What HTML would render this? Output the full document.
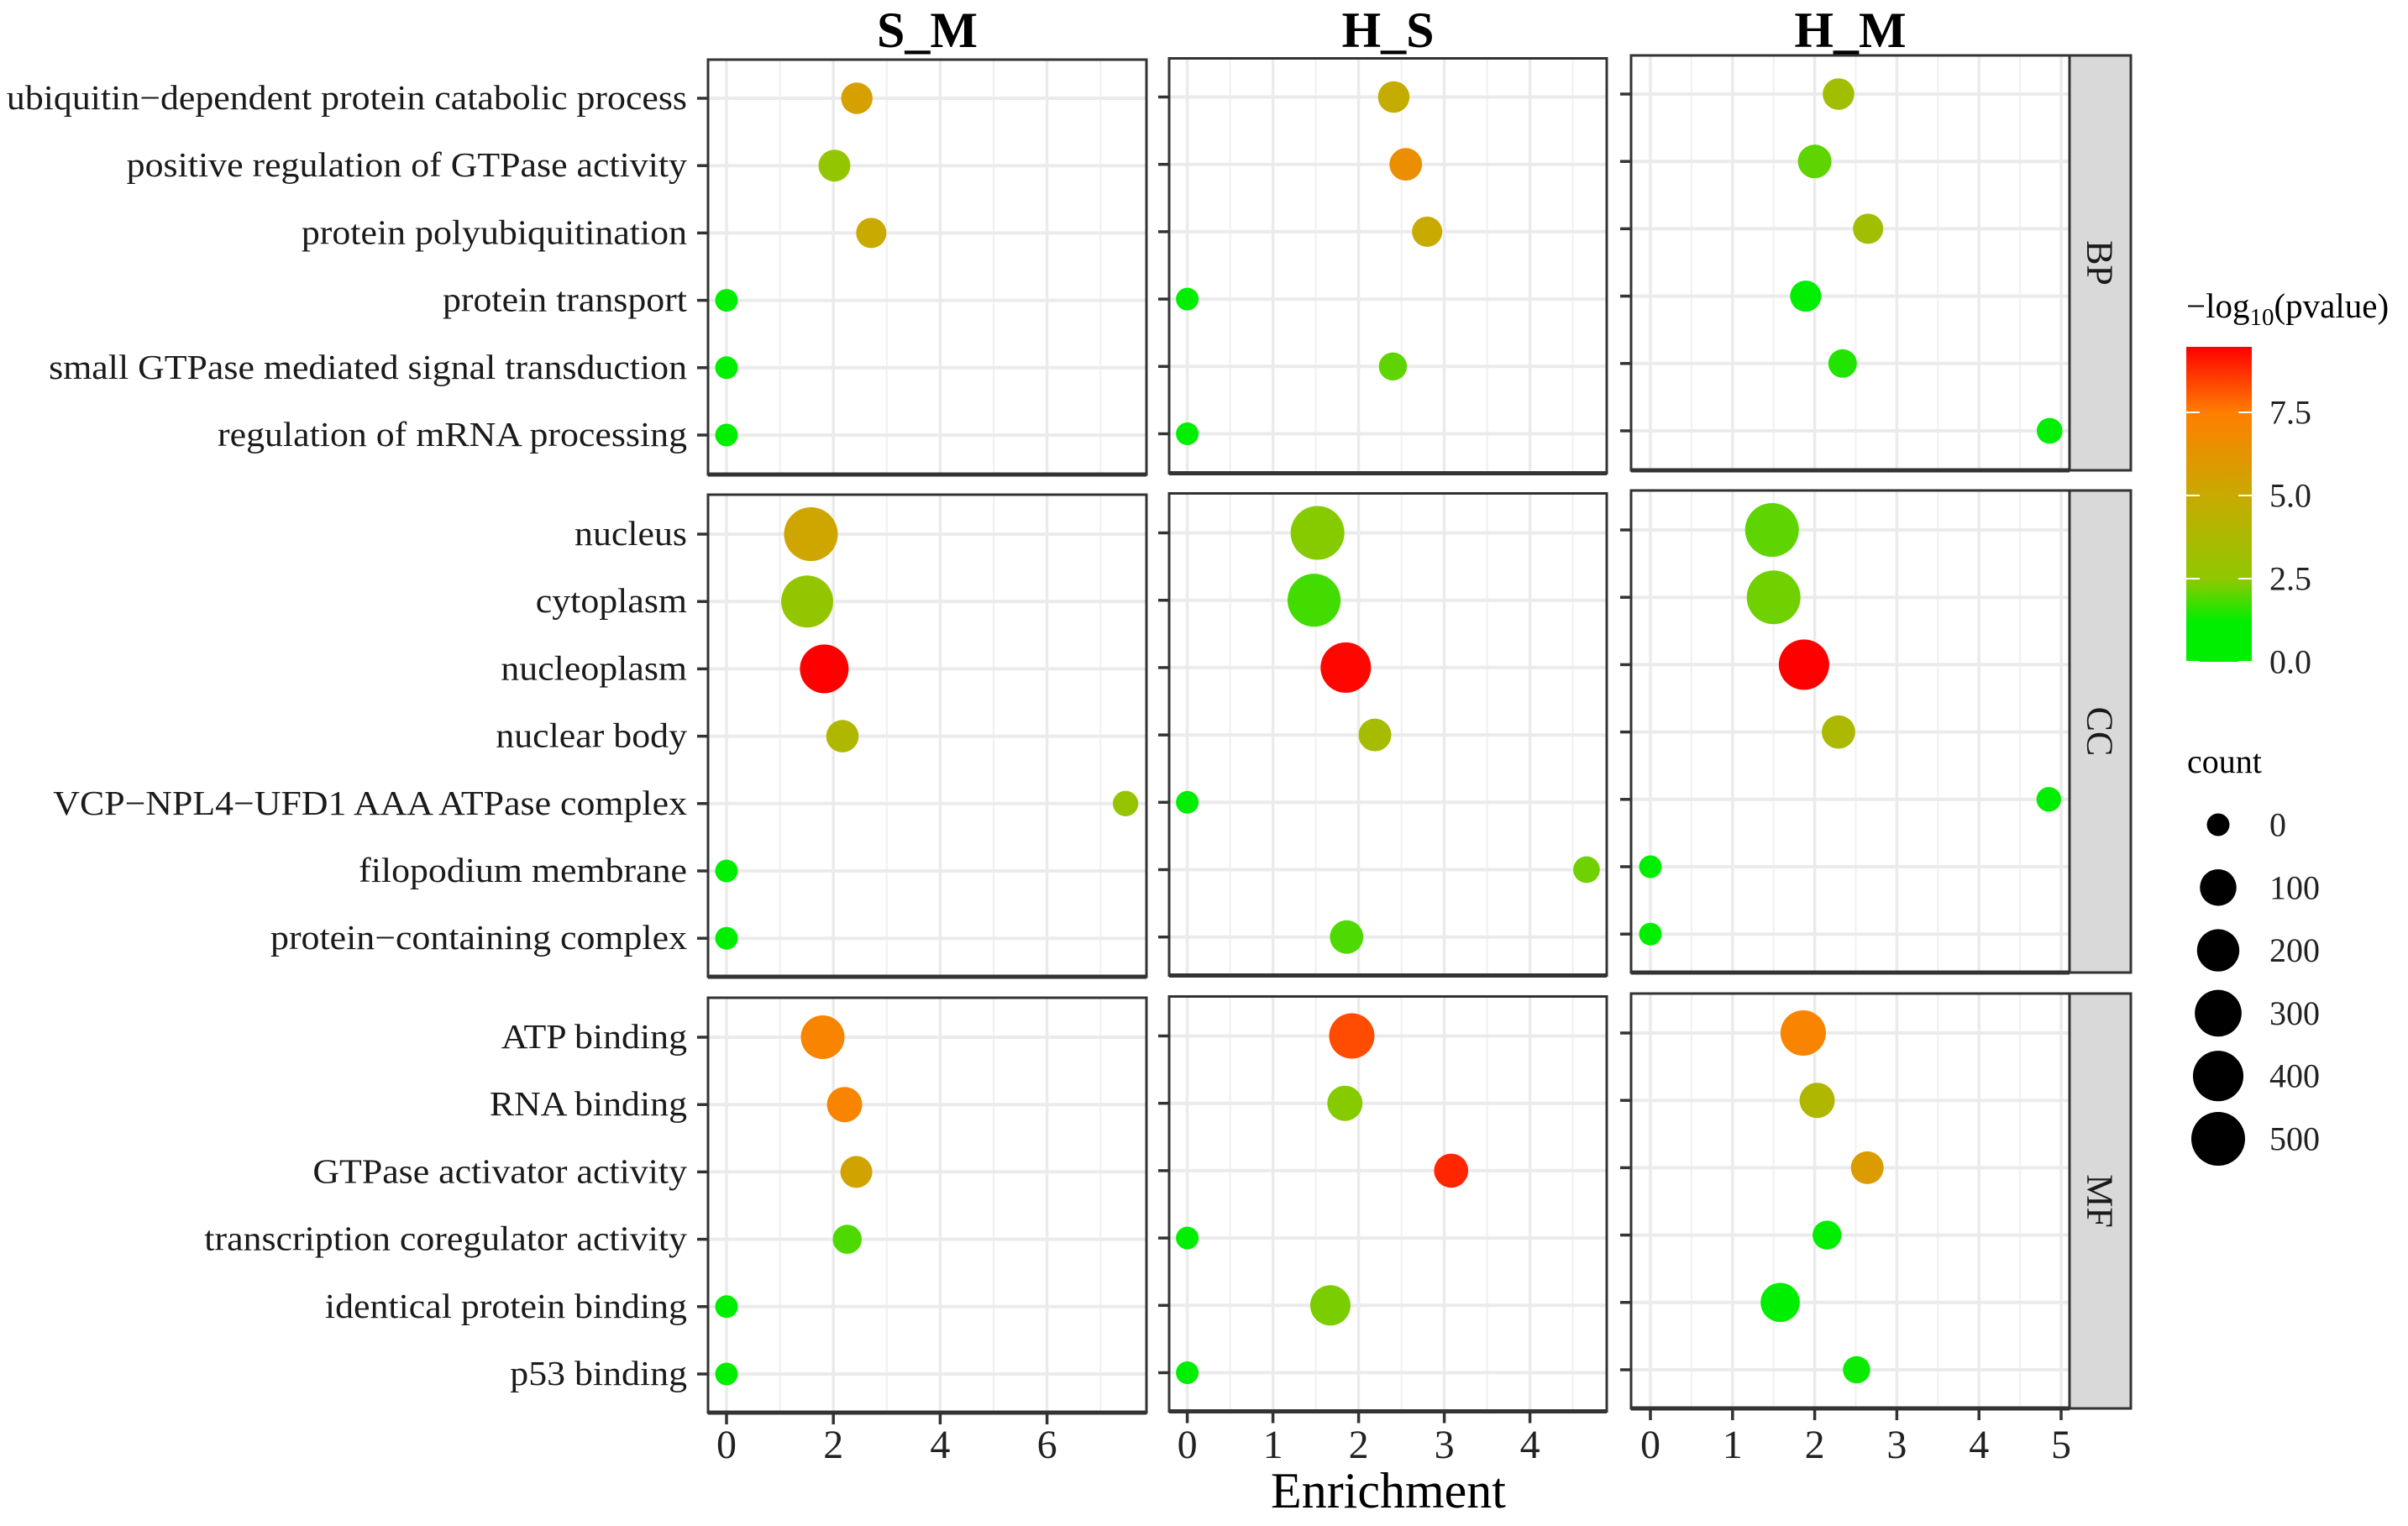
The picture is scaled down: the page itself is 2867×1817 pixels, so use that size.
<!DOCTYPE html>
<html><head><meta charset="utf-8"><style>
html,body{margin:0;padding:0;background:#fff;}
svg{display:block;font-family:"Liberation Serif",serif;}
</style></head><body>
<svg id="chart" width="2867" height="1817" viewBox="0 0 2867 1817" xmlns="http://www.w3.org/2000/svg">
<defs>
<linearGradient id="cbar" x1="0" y1="1" x2="0" y2="0">
<stop offset="0" stop-color="#00ee00"/><stop offset="0.126" stop-color="#00ee00"/>
<stop offset="0.263" stop-color="#90c800"/><stop offset="0.526" stop-color="#c8aa00"/>
<stop offset="0.789" stop-color="#ff7f00"/><stop offset="1" stop-color="#ff0000"/>
</linearGradient>
</defs>
</svg>
<script>
const terms = ["ubiquitin\u2212dependent protein catabolic process","positive regulation of GTPase activity","protein polyubiquitination","protein transport","small GTPase mediated signal transduction","regulation of mRNA processing",
"nucleus","cytoplasm","nucleoplasm","nuclear body","VCP\u2212NPL4\u2212UFD1 AAA ATPase complex","filopodium membrane","protein\u2212containing complex",
"ATP binding","RNA binding","GTPase activator activity","transcription coregulator activity","identical protein binding","p53 binding"];
const termGroup = [0,0,0,0,0,0,1,1,1,1,1,1,1,2,2,2,2,2,2];
const groupNames = ["BP","CC","MF"];
const comparisons = ["S_M","H_S","H_M"];
const enrichSM = [2.44,2.02,2.71,0,0,0, 1.58,1.51,1.83,2.17,7.47,0,0, 1.80,2.21,2.43,2.26,0,0];
const enrichHS = [2.41,2.55,2.80,0,2.40,0, 1.52,1.48,1.85,2.19,0,4.66,1.86, 1.92,1.84,3.08,0,1.67,0];
const enrichHM = [2.29,2.0,2.65,1.89,2.34,4.86, 1.48,1.50,1.87,2.29,4.85,0,0, 1.86,2.03,2.64,2.15,1.58,2.51];
const countSM = [40,44,30,0,0,0, 500,447,351,49,4,0,0, 228,82,44,21,0,0];
const countHS = [41,51,30,0,15,0, 500,479,398,53,0,8,60, 266,82,68,0,161,0];
const countHM = [41,62,30,37,18,5, 500,500,398,60,2,0,0, 266,82,53,20,140,11];
const logpSM = [5.6,2.7,5.0,0,0,0, 5.3,2.7,9.5,3.9,2.8,0,0, 7.2,7.2,5.4,1.9,0,0];
const logpHS = [4.8,6.6,5.0,0,2.05,0, 2.4,1.8,9.4,3.5,0,2.2,1.9, 8.3,2.4,8.9,0,2.3,0];
const logpHM = [3.3,2.05,3.3,1.0,1.5,0.5, 2.05,2.2,9.5,3.7,1.0,0,0, 7.2,3.9,5.8,1.0,0.9,1.3];
const xTicksSM = [0,2,4,6];
const xTicksHS = [0,1,2,3,4];
const xTicksHM = [0,1,2,3,4,5];
const colorTicks = [0,2.5,5,7.5];
const sizeBreaks = [0,100,200,300,400,500];

const NS="http://www.w3.org/2000/svg";
const svg=document.getElementById('chart');
function mk(tag,attrs,parent){const e=document.createElementNS(NS,tag);for(const k in attrs)e.setAttribute(k,attrs[k]);(parent||svg).appendChild(e);return e;}

const cols=[
 {x0:865,ppu:63.6,left:843,right:1365,majors:xTicksSM,minors:[1,3,5,7],dy:0,en:enrichSM,ct:countSM,lp:logpSM},
 {x0:1413.6,ppu:102,left:1392,right:1913,majors:xTicksHS,minors:[0.5,1.5,2.5,3.5,4.5],dy:-1.5,en:enrichHS,ct:countHS,lp:logpHS},
 {x0:1965,ppu:97.8,left:1942,right:2464,majors:xTicksHM,minors:[0.5,1.5,2.5,3.5,4.5],dy:-5,en:enrichHM,ct:countHM,lp:logpHM}];
const groups=[{top:71,bottom:565,first:117},{top:589,bottom:1163,first:636},{top:1188,bottom:1682,first:1235}];
const rowStep=80.2;
function xScale(c,v){return c.x0+v*c.ppu;}
const cStops=[[0,[0,238,0]],[1.2,[0,238,0]],[2.5,[144,200,0]],[5,[200,170,0]],[7.5,[255,127,0]],[9.5,[255,0,0]]];
function colorScale(v){for(let i=1;i<cStops.length;i++){if(v<=cStops[i][0]){const a=cStops[i-1],b=cStops[i];const t=(v-a[0])/(b[0]-a[0]||1);const c=a[1].map((x,j)=>Math.round(x+(b[1][j]-x)*t));return `rgb(${c})`;}}return 'rgb(255,0,0)';}
function rScale(n){return 13.5+18.5*Math.sqrt(Math.max(0,n)/500);}

const rowIdx=[];const cnt=[0,0,0];termGroup.forEach((g,i)=>{rowIdx[i]=cnt[g]++;});
function yScale(i,c){return groups[termGroup[i]].first+rowIdx[i]*rowStep+c.dy;}

cols.forEach((c,ci)=>{
 groups.forEach((g,gi)=>{
  const top=g.top+c.dy,bot=g.bottom+c.dy;
  const p=mk('rect',{x:c.left,y:top,width:c.right-c.left,height:bot-top,fill:'#fff'});
  
  
  c.minors.forEach(v=>{const x=xScale(c,v);if(x>c.left&&x<c.right){const l=mk('line',{x1:x,x2:x,y1:top,y2:bot,stroke:'#f0f0f0','stroke-width':2});}});
  c.majors.forEach(v=>{const x=xScale(c,v);const l=mk('line',{x1:x,x2:x,y1:top,y2:bot,stroke:'#ebebeb','stroke-width':3.5});});
  terms.forEach((t,i)=>{if(termGroup[i]!==gi)return;const y=yScale(i,c);
   const l=mk('line',{x1:c.left,x2:c.right,y1:y,y2:y,stroke:'#ebebeb','stroke-width':4});
   const tk=mk('line',{x1:c.left-13,x2:c.left,y1:y,y2:y,stroke:'#333','stroke-width':3.5});
  });
  terms.forEach((t,i)=>{if(termGroup[i]!==gi)return;
   const d=mk('circle',{cx:xScale(c,c.en[i]),cy:yScale(i,c),r:rScale(c.ct[i]),fill:colorScale(c.lp[i])});
   
   
  });
  const b=mk('rect',{x:c.left,y:top,width:c.right-c.left,height:bot-top,fill:'none',stroke:'#333','stroke-width':3});
  
  const bl=mk('line',{x1:c.left,x2:c.right,y1:bot,y2:bot,stroke:'#333','stroke-width':5});
  
  if(ci===2){const s=mk('rect',{x:2464,y:top,width:73,height:bot-top,fill:'#d9d9d9',stroke:'#333','stroke-width':3});
   
   const cy=(top+bot)/2;const st=mk('text',{x:2500,y:cy,'font-size':44,'text-anchor':'middle','dominant-baseline':'central',transform:`rotate(90 2500 ${cy})`,fill:'#1a1a1a'});st.textContent=groupNames[gi];
   }
 });
 const h=mk('text',{x:(c.left+c.right)/2,y:56,'font-size':60,'font-weight':'bold','text-anchor':'middle',fill:'#000'});h.textContent=comparisons[ci];
 
 const bot=groups[2].bottom+c.dy;
 c.majors.forEach(v=>{const x=xScale(c,v);
  const t=mk('line',{x1:x,x2:x,y1:bot,y2:bot+14,stroke:'#333','stroke-width':3.5});
  const l=mk('text',{x:x,y:1736,'font-size':48,'text-anchor':'middle',fill:'#222'});l.textContent=String(v);
  });
});
terms.forEach((t,i)=>{const y=yScale(i,cols[0]);const l=mk('text',{x:0,y:0,'font-size':41,'text-anchor':'end','dominant-baseline':'central',fill:'#1a1a1a',transform:`translate(818 ${y}) scale(1.07 1)`});l.textContent=t;
 });
const xt=mk('text',{x:1653,y:1795,'font-size':60,'text-anchor':'middle',fill:'#000'});xt.textContent='Enrichment';


const lt=mk('text',{x:2603,y:378,'font-size':41,fill:'#000'});lt.innerHTML='\u2212log<tspan font-size="29" dy="9">10</tspan><tspan dy="-9">(pvalue)</tspan>';

const cb=mk('rect',{x:2603,y:413,width:78,height:375,fill:'url(#cbar)'});
const cbY=v=>788-v*(375/9.47);
colorTicks.forEach(v=>{const y=cbY(v);
 mk('line',{x1:2603,x2:2619,y1:y,y2:y,stroke:'#fff','stroke-width':2});
 mk('line',{x1:2665,x2:2681,y1:y,y2:y,stroke:'#fff','stroke-width':2});
 const l=mk('text',{x:2702,y:y,'font-size':40,'dominant-baseline':'central',fill:'#222'});l.textContent=v.toFixed(1);
 });
const ct=mk('text',{x:2604,y:920,'font-size':40,fill:'#000'});ct.textContent='count';

sizeBreaks.forEach((v,k)=>{const y=982+k*74.8;
 const c=mk('circle',{cx:2641,cy:y,r:rScale(v),fill:'#000'});
 const l=mk('text',{x:2702,y:y,'font-size':40,'dominant-baseline':'central',fill:'#222'});l.textContent=String(v);
 });
</script>
</body></html>
